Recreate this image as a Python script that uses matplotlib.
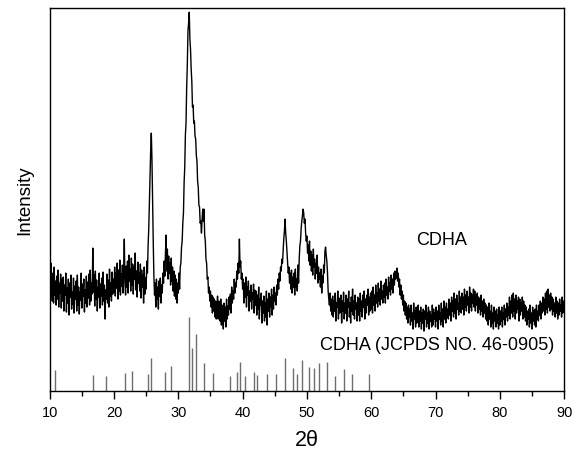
import matplotlib
matplotlib.use("Agg")
import matplotlib.pyplot as plt
import numpy as np

plt.rcParams['font.family'] = ['Liberation Sans', 'DejaVu Sans']

# measured pattern, 2theta from 10 to 90 in 0.1 deg steps (arbitrary intensity units)
intensity = [
    120, 95, 128, 102, 90, 118, 88, 124, 96, 110, 86, 115, 92, 121, 84, 108, 98, 117, 83, 112,          # 10
    90, 114, 80, 106, 96, 118, 79, 103, 88, 112, 76, 108, 94, 116, 82, 99, 87, 113, 78, 105,            # 12
    92, 110, 80, 116, 86, 104, 77, 99, 91, 118, 83, 107, 95, 112, 79, 101, 88, 115, 84, 109,            # 14
    93, 117, 86, 121, 90, 108, 97, 143, 99, 116, 85, 120, 92, 111, 80, 104, 94, 118, 83, 107,           # 16
    95, 113, 86, 119, 90, 106, 72, 101, 92, 117, 88, 111, 84, 122, 95, 108, 90, 119, 97, 112,           # 18
    99, 124, 95, 118, 103, 128, 92, 121, 100, 131, 96, 117, 105, 126, 98, 119, 152, 108, 96, 125,       # 20
    104, 130, 98, 136, 110, 122, 100, 133, 106, 127, 97, 124, 112, 138, 101, 120, 94, 129, 108, 118,    # 22
    100, 127, 93, 121, 104, 116, 88, 124, 97, 113, 102, 130, 118, 145, 162, 190, 214, 240, 258, 232,    # 24
    190, 150, 115, 96, 108, 84, 112, 92, 104, 82, 110, 95, 113, 88, 106, 98, 118, 108, 130, 115,        # 26
    138, 156, 120, 142, 112, 135, 118, 128, 106, 133, 110, 124, 100, 120, 95, 116, 92, 112, 88, 108,    # 28
    98, 118, 102, 124, 128, 144, 150, 168, 178, 208, 224, 256, 268, 304, 326, 360, 368, 379, 352, 342,  # 30
    322, 310, 284, 286, 268, 270, 255, 252, 236, 230, 210, 204, 186, 184, 168, 170, 158, 172, 182, 170, # 32
    182, 156, 150, 132, 128, 112, 114, 98, 104, 90, 100, 84, 96, 78, 94, 80, 92, 74, 90, 72,            # 34
    80, 95, 72, 90, 84, 70, 92, 66, 86, 78, 62, 88, 70, 84, 64, 92, 72, 85, 76, 94,                     # 36
    82, 97, 78, 104, 88, 100, 92, 112, 98, 108, 104, 120, 112, 128, 118, 152, 124, 130, 112, 118,       # 38
    102, 112, 88, 108, 94, 114, 84, 104, 96, 110, 80, 100, 90, 106, 82, 98, 92, 107, 78, 101,           # 40
    86, 100, 76, 96, 82, 104, 72, 92, 86, 98, 68, 90, 78, 95, 70, 88, 74, 100, 66, 92,                  # 42
    80, 98, 74, 94, 84, 102, 76, 96, 82, 104, 90, 98, 86, 106, 96, 112, 102, 118, 110, 124,             # 44
    120, 132, 128, 140, 152, 160, 172, 158, 150, 138, 128, 118, 124, 108, 118, 102, 121, 98, 114, 104,  # 46
    118, 96, 122, 104, 112, 100, 126, 108, 132, 145, 150, 162, 170, 175, 182, 178, 168, 172, 158, 150,  # 48
    155, 138, 146, 130, 150, 126, 140, 120, 136, 116, 142, 124, 132, 112, 128, 118, 136, 108, 124, 112, # 50
    118, 104, 122, 98, 115, 108, 126, 118, 140, 144, 136, 130, 118, 100, 92, 86, 98, 80, 92, 76,        # 52
    95, 74, 90, 80, 98, 70, 88, 84, 100, 72, 93, 78, 86, 96, 68, 90, 80, 99, 72, 88,                    # 54
    78, 96, 70, 92, 84, 100, 74, 88, 68, 94, 80, 102, 76, 90, 72, 96, 82, 88, 70, 94,                   # 56
    76, 92, 70, 98, 80, 90, 74, 96, 84, 100, 72, 92, 78, 96, 86, 102, 76, 94, 80, 98,                   # 58
    82, 100, 78, 104, 86, 96, 80, 106, 88, 98, 84, 108, 90, 102, 86, 110, 92, 100, 88, 106,             # 60
    94, 108, 88, 112, 96, 104, 92, 114, 100, 108, 96, 116, 102, 112, 98, 118, 106, 120, 112, 116,       # 62
    123, 110, 118, 104, 112, 96, 106, 92, 100, 86, 96, 80, 90, 76, 88, 72, 84, 68, 86, 74,              # 64
    82, 66, 86, 70, 78, 62, 88, 72, 80, 64, 84, 68, 76, 86, 64, 80, 70, 84, 62, 78,                     # 66
    68, 82, 60, 80, 72, 86, 64, 78, 68, 84, 62, 80, 70, 76, 64, 86, 66, 82, 72, 78,                     # 68
    64, 84, 70, 80, 62, 86, 72, 78, 66, 88, 70, 82, 64, 90, 72, 84, 68, 88, 74, 82,                     # 70
    72, 92, 76, 88, 70, 94, 80, 90, 74, 98, 78, 92, 72, 96, 82, 88, 76, 100, 80, 94,                    # 72
    78, 98, 82, 94, 76, 102, 84, 96, 80, 100, 86, 94, 78, 104, 84, 98, 80, 96, 88, 102,                 # 74
    84, 100, 80, 96, 86, 98, 78, 94, 82, 92, 76, 96, 80, 90, 74, 92, 78, 88, 72, 86,                    # 76
    70, 84, 66, 88, 72, 80, 64, 86, 68, 78, 62, 84, 70, 80, 64, 82, 68, 76, 62, 84,                     # 78
    66, 80, 70, 84, 64, 78, 72, 86, 66, 82, 74, 88, 70, 84, 76, 94, 72, 90, 78, 96,                     # 80
    74, 98, 80, 92, 72, 96, 78, 90, 82, 94, 70, 92, 76, 88, 80, 94, 72, 90, 74, 86,                     # 82
    70, 84, 66, 80, 72, 82, 64, 86, 68, 78, 62, 84, 70, 80, 66, 82, 64, 86, 72, 80,                     # 84
    70, 86, 76, 90, 72, 88, 78, 94, 80, 92, 76, 98, 82, 100, 78, 102, 84, 96, 80, 98,                   # 86
    82, 94, 76, 92, 80, 88, 74, 94, 78, 90, 72, 88, 76, 92, 80, 86, 74, 94, 78, 90,                     # 88
    84,                                                                                                 # 90
]
two_theta = np.round(10 + 0.1 * np.arange(len(intensity)), 1)

# reference pattern CDHA (JCPDS 46-0905)
ref_pos = [10.8, 16.8, 18.7, 21.7, 22.8, 25.3, 25.8, 28.0, 28.8, 31.7,
           32.1, 32.8, 34.0, 35.4, 38.1, 39.1, 39.6, 40.4, 41.8, 42.2,
           43.8, 45.2, 46.6, 47.9, 48.4, 49.3, 50.3, 51.1, 51.9, 53.1,
           54.4, 55.7, 57.0, 59.7]
ref_h = [21, 16, 15, 18, 20, 17, 33, 19, 25, 74,
         43, 57, 28, 18, 15, 19, 29, 15, 19, 16,
         17, 17, 33, 23, 17, 31, 24, 23, 28, 29,
         15, 22, 17, 17]

fig = plt.figure(figsize=(5.78, 4.52), dpi=100)
ax = fig.add_axes([0.086, 0.1327, 0.89, 0.847])

ax.plot(two_theta, intensity, color='black', lw=1.0)
ax.vlines(ref_pos, 0, ref_h, color='#6e6e6e', lw=1.0)

ax.text(70.95, 152, "CDHA", fontsize=13, ha='center', va='center')
ax.text(70.2, 47, "CDHA (JCPDS NO. 46-0905)", fontsize=13, ha='center', va='center')

ax.set_xlim(10, 90)
ax.set_ylim(0, 383)
ax.set_xticks(np.arange(10, 91, 10))
ax.set_xticks(np.arange(15, 90, 10), minor=True)
ax.set_yticks([])
ax.tick_params(axis='x', which='major', direction='out', length=5.5, width=1, labelsize=10.5, pad=4.5)
ax.tick_params(axis='x', which='minor', direction='out', length=3.6, width=1)
for s in ax.spines.values():
    s.set_linewidth(1)

ax.set_xlabel("2θ", fontsize=15.5, labelpad=7)
ax.set_ylabel("Intensity", fontsize=13.5, labelpad=12)

fig.savefig("out.png", dpi=100)
